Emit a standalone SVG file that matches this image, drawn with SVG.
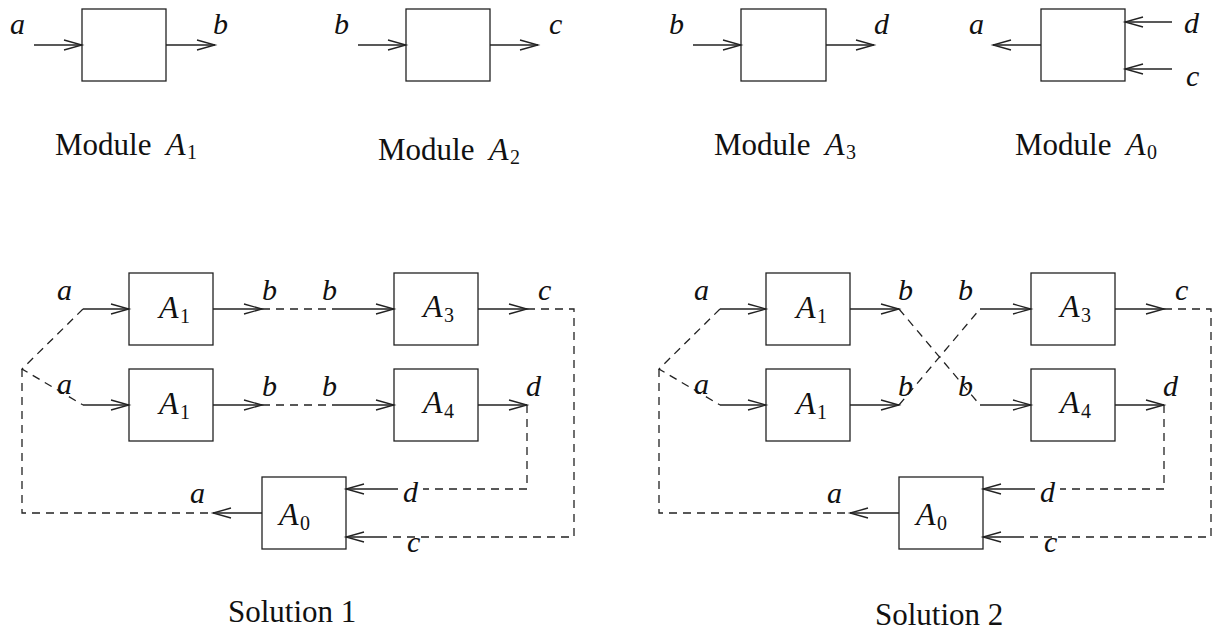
<svg xmlns="http://www.w3.org/2000/svg" width="1213" height="631" viewBox="0 0 1213 631">
<style>
.box{fill:none;stroke:#222;stroke-width:1.3}
.ln{fill:none;stroke:#222;stroke-width:1.3}
.arr{marker-end:url(#ah)}
.dash{stroke-dasharray:8 6}
text{fill:#111;font-family:"Liberation Serif",serif}
.it{font-style:italic;font-size:30px}
.A{font-style:italic;font-size:32px}
.rm{font-size:31px}
.sub{font-style:normal;font-size:20px}
</style>
<defs>
<marker id="ah" markerUnits="userSpaceOnUse" markerWidth="20" markerHeight="12" viewBox="0 -1 20 12" refX="18" refY="5" orient="auto" overflow="visible">
<path d="M0,0 L18,5 L0,10" fill="none" stroke="#222" stroke-width="1.3"/>
</marker>
</defs>
<rect width="1213" height="631" fill="#fff"/>

<!-- Top row modules -->
<g id="moduleA1">
<rect class="box" x="82" y="9" width="84" height="72"/>
<text class="it" x="10" y="34">a</text>
<text class="it" x="213" y="34">b</text>
<text class="rm" x="55" y="155">Module<tspan class="A" x="166">A</tspan><tspan class="sub" x="187" dy="4">1</tspan></text>
</g>
<g id="moduleA2">
<rect class="box" x="406" y="9" width="84" height="72"/>
<text class="it" x="334" y="34">b</text>
<text class="it" x="549" y="34">c</text>
<text class="rm" x="378" y="160">Module<tspan class="A" x="489">A</tspan><tspan class="sub" x="510" dy="4">2</tspan></text>
</g>
<g id="moduleA3">
<rect class="box" x="741" y="9" width="85" height="72"/>
<text class="it" x="669" y="34">b</text>
<text class="it" x="874" y="34">d</text>
<text class="rm" x="714" y="155">Module<tspan class="A" x="825">A</tspan><tspan class="sub" x="846" dy="4">3</tspan></text>
</g>
<g id="moduleA0">
<rect class="box" x="1041" y="9" width="84" height="72"/>
<text class="it" x="969" y="34">a</text>
<text class="it" x="1184" y="33">d</text>
<text class="it" x="1186" y="86">c</text>
<text class="rm" x="1015" y="155">Module<tspan class="A" x="1126">A</tspan><tspan class="sub" x="1147" dy="4">0</tspan></text>
</g>

<!-- Solution 1 nodes -->
<g id="s1A1top"><rect class="box" x="129" y="273" width="84" height="72"/><text class="A" x="159" y="318">A<tspan class="sub" x="180" dy="5">1</tspan></text></g>
<g id="s1A1bot"><rect class="box" x="129" y="369" width="84" height="72"/><text class="A" x="159" y="414">A<tspan class="sub" x="180" dy="5">1</tspan></text></g>
<g id="s1A3"><rect class="box" x="394" y="273" width="84" height="72"/><text class="A" x="423" y="317">A<tspan class="sub" x="444" dy="5">3</tspan></text></g>
<g id="s1A4"><rect class="box" x="394" y="369" width="84" height="72"/><text class="A" x="423" y="413">A<tspan class="sub" x="444" dy="5">4</tspan></text></g>
<g id="s1A0"><rect class="box" x="262" y="477" width="84" height="72"/><text class="A" x="279" y="525">A<tspan class="sub" x="300" dy="5">0</tspan></text></g>

<!-- Solution 2 nodes -->
<g id="s2A1top"><rect class="box" x="766" y="273" width="84" height="72"/><text class="A" x="796" y="318">A<tspan class="sub" x="817" dy="5">1</tspan></text></g>
<g id="s2A1bot"><rect class="box" x="766" y="369" width="84" height="72"/><text class="A" x="796" y="414">A<tspan class="sub" x="817" dy="5">1</tspan></text></g>
<g id="s2A3"><rect class="box" x="1031" y="273" width="84" height="72"/><text class="A" x="1060" y="317">A<tspan class="sub" x="1081" dy="5">3</tspan></text></g>
<g id="s2A4"><rect class="box" x="1031" y="369" width="84" height="72"/><text class="A" x="1060" y="413">A<tspan class="sub" x="1081" dy="5">4</tspan></text></g>
<g id="s2A0"><rect class="box" x="899" y="477" width="84" height="72"/><text class="A" x="916" y="525">A<tspan class="sub" x="937" dy="5">0</tspan></text></g>

<!-- Connectors -->
<g id="connectors">
<!-- top row -->
<path class="ln arr" d="M34,45 H82"/>
<path class="ln arr" d="M166,45 H215"/>
<path class="ln arr" d="M358,45 H406"/>
<path class="ln arr" d="M490,45 H538"/>
<path class="ln arr" d="M693,45 H741"/>
<path class="ln arr" d="M826,45 H874"/>
<path class="ln arr" d="M1041,45 H993"/>
<path class="ln arr" d="M1172,22 H1125"/>
<path class="ln arr" d="M1172,69 H1125"/>

<!-- solution 1 -->
<path class="ln dash" d="M83,309 L22,369 L83,405"/>
<path class="ln dash" d="M22,369 V513 H213"/>
<path class="ln arr" d="M83,309 H129"/>
<path class="ln arr" d="M83,405 H129"/>
<path class="ln arr" d="M213,309 H262"/>
<path class="ln dash" d="M262,309 H338"/>
<path class="ln arr" d="M338,309 H394"/>
<path class="ln arr" d="M213,405 H262"/>
<path class="ln dash" d="M262,405 H338"/>
<path class="ln arr" d="M338,405 H394"/>
<path class="ln arr" d="M478,309 H527"/>
<path class="ln dash" d="M527,309 H574 V537 H387"/>
<path class="ln arr" d="M387,537 H346"/>
<path class="ln arr" d="M478,405 H527"/>
<path class="ln dash" d="M527,405 V489 H423"/>
<path class="ln arr" d="M398,489 H346"/>
<path class="ln arr" d="M262,513 H213"/>

<!-- solution 2 -->
<path class="ln dash" d="M720,309 L659,369 L720,405"/>
<path class="ln dash" d="M659,369 V513 H850"/>
<path class="ln arr" d="M720,309 H766"/>
<path class="ln arr" d="M720,405 H766"/>
<path class="ln arr" d="M850,309 H899"/>
<path class="ln arr" d="M850,405 H899"/>
<path class="ln dash" d="M899,309 L980,405"/>
<path class="ln dash" d="M899,405 L980,309"/>
<path class="ln arr" d="M980,309 H1031"/>
<path class="ln arr" d="M980,405 H1031"/>
<path class="ln arr" d="M1115,309 H1164"/>
<path class="ln dash" d="M1164,309 H1211 V537 H1024"/>
<path class="ln arr" d="M1024,537 H983"/>
<path class="ln arr" d="M1115,405 H1164"/>
<path class="ln dash" d="M1164,405 V489 H1060"/>
<path class="ln arr" d="M1035,489 H983"/>
<path class="ln arr" d="M899,513 H850"/>
</g>

<!-- Solution 1 labels -->
<g id="s1labels">
<text class="it" x="57" y="300">a</text>
<text class="it" x="57" y="394">a</text>
<text class="it" x="262" y="300">b</text>
<text class="it" x="322" y="300">b</text>
<text class="it" x="262" y="396">b</text>
<text class="it" x="322" y="396">b</text>
<text class="it" x="538" y="300">c</text>
<text class="it" x="526" y="396">d</text>
<text class="it" x="190" y="503">a</text>
<text class="it" x="403" y="502">d</text>
<text class="it" x="407" y="552">c</text>
<text class="rm" x="228" y="622">Solution 1</text>
</g>

<!-- Solution 2 labels -->
<g id="s2labels">
<text class="it" x="694" y="300">a</text>
<text class="it" x="694" y="394">a</text>
<text class="it" x="898" y="300">b</text>
<text class="it" x="958" y="300">b</text>
<text class="it" x="898" y="396">b</text>
<text class="it" x="958" y="396">b</text>
<text class="it" x="1175" y="300">c</text>
<text class="it" x="1163" y="396">d</text>
<text class="it" x="827" y="503">a</text>
<text class="it" x="1040" y="502">d</text>
<text class="it" x="1044" y="552">c</text>
<text class="rm" x="875" y="625">Solution 2</text>
</g>
</svg>
